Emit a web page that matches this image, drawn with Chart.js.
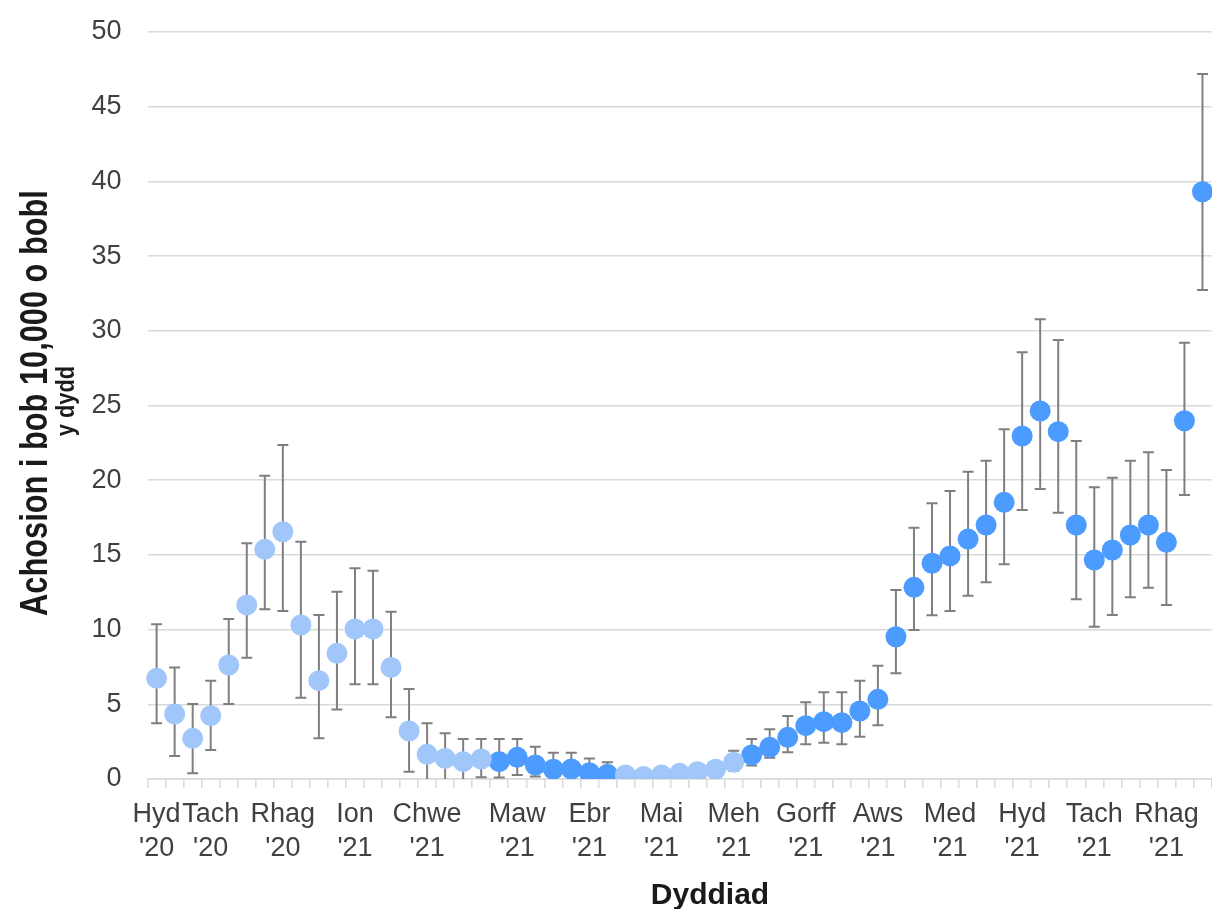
<!DOCTYPE html>
<html><head><meta charset="utf-8">
<script src="https://cdn.jsdelivr.net/npm/chart.js@4"></script>
<style>
html,body{margin:0;padding:0;overflow:hidden;background:#fff;width:1212px;height:909px}
#wrap{position:absolute;left:0;top:0;width:1222px;height:909px}
</style>
</head><body><div id="wrap"><canvas id="c" width="1222" height="909"></canvas></div>
<script>
// ---- data ----
const monthNames = ['Hyd','Tach','Rhag','Ion','Chwe','Maw','Ebr','Mai','Meh','Gorff','Aws','Med','Hyd','Tach','Rhag'];
const monthYears = ["'20","'20","'20","'21","'21","'21","'21","'21","'21","'21","'21","'21","'21","'21","'21"];
const monthIndex = [0,3,7,11,15,20,24,28,32,36,40,44,48,52,56];
const rates = [6.74,4.35,2.72,4.24,7.63,11.65,15.37,16.55,10.31,6.58,8.41,10.04,10.04,7.47,3.21,1.65,1.38,1.16,1.34,1.16,1.45,0.94,0.65,0.67,0.42,0.31,0.27,0.16,0.27,0.38,0.49,0.65,1.12,1.61,2.12,2.79,3.57,3.84,3.77,4.55,5.33,9.52,12.83,14.44,14.93,16.06,17.00,18.52,22.96,24.63,23.25,17.00,14.66,15.33,16.33,17.00,15.84,23.98,39.31];
const lower = [3.73,1.54,0.38,1.94,5.02,8.12,11.36,11.24,5.44,2.72,4.66,6.34,6.34,4.13,0.49,0,0,0,0.11,0.10,0.27,0.16,0,0,0,0,0.05,0.02,0.05,0.10,0.15,0.25,0.55,0.90,1.43,1.79,2.32,2.43,2.32,2.83,3.59,7.07,9.97,10.96,11.24,12.27,13.17,14.37,18.00,19.41,17.82,12.03,10.19,10.98,12.16,12.80,11.65,19.01,32.73];
const upper = [10.35,7.47,5.02,6.58,10.71,15.78,20.30,22.36,15.88,10.98,12.54,14.10,13.94,11.20,6.02,3.73,3.06,2.68,2.68,2.68,2.68,2.16,1.76,1.76,1.38,1.12,0.60,0.45,0.60,0.75,0.90,1.10,1.89,2.68,3.33,4.22,5.13,5.80,5.80,6.58,7.58,12.65,16.82,18.45,19.28,20.57,21.31,23.41,28.56,30.77,29.38,22.62,19.52,20.17,21.31,21.87,20.68,29.20,47.19];
// 0 = first group (light), 1 = second group (dark)
const group = [0,0,0,0,0,0,0,0,0,0,0,0,0,0,0,0,0,0,0,1,1,1,1,1,1,1,0,0,0,0,0,0,0,1,1,1,1,1,1,1,1,1,1,1,1,1,1,1,1,1,1,1,1,1,1,1,1,1,1];
const yTitle = ['Achosion i bob 10,000 o bobl','y dydd'];
const xTitle = 'Dyddiad';

// ---- build ----
const labels = rates.map(() => '');
monthIndex.forEach((idx, k) => { labels[idx] = [monthNames[k], monthYears[k]]; });
const lightVals = rates.map((v, i) => group[i] === 0 ? v : null);
const darkVals = rates.map((v, i) => group[i] === 1 ? v : null);

const LIGHT = 'rgb(160,198,250)';
const DARK = 'rgb(76,155,255)';
const BASE = "'Liberation Sans', Arial, sans-serif";

const errorBars = {
  id: 'errorBars',
  beforeDatasetsDraw(chart) {
    const {ctx, chartArea: a, scales: {x, y}} = chart;
    ctx.save();
    ctx.beginPath();
    ctx.rect(a.left, a.top - 2, a.right - a.left, a.bottom - a.top + 2);
    ctx.clip();
    ctx.strokeStyle = '#7f7f7f';
    ctx.lineWidth = 2;
    const cap = 5.5;
    rates.forEach((v, i) => {
      const px = x.getPixelForValue(i);
      const yl = y.getPixelForValue(lower[i]);
      const yh = y.getPixelForValue(upper[i]);
      ctx.beginPath();
      ctx.moveTo(px, yl); ctx.lineTo(px, yh);
      ctx.moveTo(px - cap, yh); ctx.lineTo(px + cap, yh);
      if (lower[i] > 0) { ctx.moveTo(px - cap, yl); ctx.lineTo(px + cap, yl); }
      ctx.stroke();
    });
    ctx.restore();
  }
};

const titles = {
  id: 'titles',
  afterDraw(chart) {
    const {ctx} = chart;
    ctx.save();
    ctx.fillStyle = '#1a1a1a';
    ctx.textAlign = 'center';
    ctx.textBaseline = 'alphabetic';
    ctx.save();
    ctx.translate(47, 403);
    ctx.rotate(-Math.PI / 2);
    ctx.scale(0.81, 1);
    ctx.font = "bold 38px " + BASE;
    ctx.fillText(yTitle[0], 0, 0);
    ctx.restore();
    ctx.save();
    ctx.translate(74, 401);
    ctx.rotate(-Math.PI / 2);
    ctx.scale(0.84, 1);
    ctx.font = "bold 26px " + BASE;
    ctx.fillText(yTitle[1], 0, 0);
    ctx.restore();
    ctx.font = "bold 30px " + BASE;
    ctx.fillText(xTitle, 710, 904);
    ctx.restore();
  }
};

new Chart(document.getElementById('c'), {
  type: 'line',
  data: {
    labels,
    datasets: [
      {data: lightVals, showLine: false, pointRadius: 10.5, pointHoverRadius: 10.5, pointBorderWidth: 0,
       pointBackgroundColor: LIGHT, backgroundColor: LIGHT, borderColor: LIGHT},
      {data: darkVals, showLine: false, pointRadius: 10.5, pointHoverRadius: 10.5, pointBorderWidth: 0,
       pointBackgroundColor: DARK, backgroundColor: DARK, borderColor: DARK}
    ]
  },
  options: {
    responsive: false,
    devicePixelRatio: 1,
    animation: false,
    layout: {padding: {top: 32, right: 2, left: 0, bottom: 0}},
    plugins: {legend: {display: false}, tooltip: {enabled: false}},
    scales: {
      x: {
        type: 'category',
        offset: true,
        grid: {offset: true, drawOnChartArea: false, drawTicks: true, tickLength: 9, color: '#d9d9d9', lineWidth: 1.5},
        border: {display: true, color: '#d9d9d9', width: 1.5},
        ticks: {autoSkip: false, maxRotation: 0, minRotation: 0, padding: 10, color: '#404040',
                font: {family: BASE, size: 27, lineHeight: 1.25}},
        afterFit(s) { s.height = 130; }
      },
      y: {
        min: 0, max: 50,
        grid: {color: '#d9d9d9', lineWidth: 1.5, drawTicks: false},
        border: {display: false},
        ticks: {stepSize: 5, padding: 26, color: '#404040', font: {family: BASE, size: 27}},
        afterFit(s) { s.width = 147.6; s.paddingTop = 16; s.paddingBottom = 16; }
      }
    }
  },
  plugins: [errorBars, titles]
});
</script>
</body></html>
